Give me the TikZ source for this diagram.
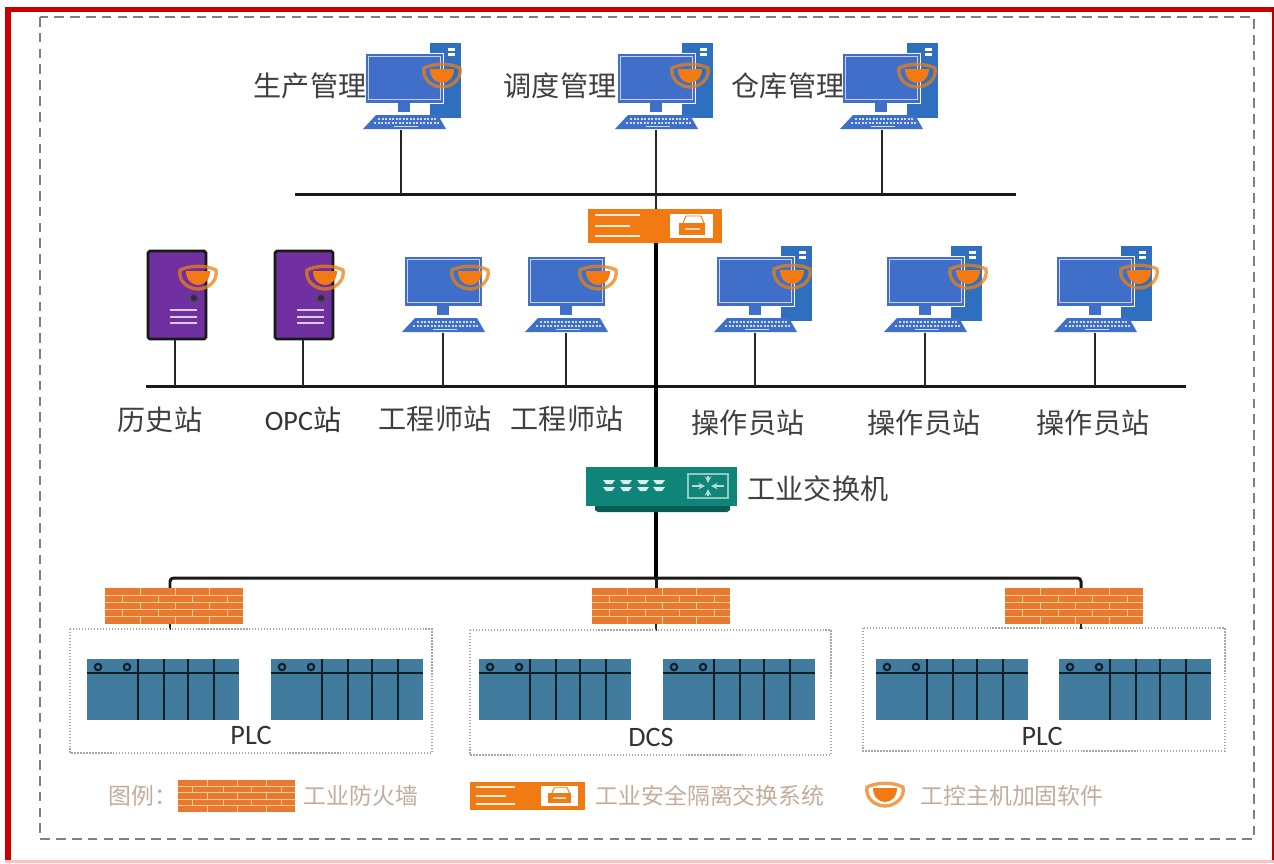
\documentclass[tikz,border=0pt]{standalone}
\usepackage{fontspec}
\setmainfont{Carlito}
\newfontfamily\cjk{Noto Sans CJK SC}
\definecolor{hostblue}{HTML}{3F6FC8}
\definecolor{towerblue}{HTML}{2F6FC0}
\definecolor{srvpurple}{HTML}{7030A0}
\definecolor{gateorange}{HTML}{F27A12}
\definecolor{brick}{HTML}{E8792E}
\definecolor{swteal}{HTML}{0F8478}
\definecolor{swdark}{HTML}{0A5C54}
\definecolor{rackblue}{HTML}{417B9E}
\definecolor{legendtext}{HTML}{C4AC9C}
\tikzset{
  stem/.style={line width=1.1pt,draw=black!85},
  bus/.style={line width=1.7pt,draw=black!90},
  trunk/.style={line width=2.1pt,draw=black},
  hostlabel/.style={font=\cjk\fontsize{16}{18}\selectfont,text=black!75,inner sep=0pt},
  fieldlabel/.style={font=\fontsize{16}{18}\selectfont,text=black!80,inner sep=0pt},
  legendlabel/.style={font=\cjk\fontsize{13}{15}\selectfont,text=legendtext,inner sep=0pt},
  unitbox/.style={draw=black!35,line width=.7pt,densely dotted},
  monitor/.pic={
    \fill[hostblue,draw=white,line width=.4pt] (-39,-77) rectangle (39,-27);
    \draw[blue!20!white,line width=.5pt] (-36,-74) rectangle (36,-31);
    \fill[hostblue] (-6,-27) rectangle (6,-18);
    \fill[hostblue] (-28,-15) -- (34,-15) -- (42,-1) -- (-41,-1) -- cycle;
    \draw[white!75!hostblue,line width=1pt,dash pattern=on 1.2pt off .8pt] (-26,-11) -- (32,-11);
    \draw[white!75!hostblue,line width=1pt,dash pattern=on 1.2pt off .8pt] (-30,-7) -- (36,-7);
    \draw[white!75!hostblue,line width=1pt] (-10,-3.5) -- (14,-3.5);
  },
  desktop/.pic={
    \fill[towerblue] (26,-87) rectangle (57,-12);
    \fill[white] (44,-82) rectangle (51,-79);
    \fill[white] (44,-77) rectangle (51,-74);
    \pic {monitor};
  },
  server/.pic={
    \fill[srvpurple,draw=black!90,line width=1.6pt,rounded corners=1pt] (0,0) rectangle (58,88);
    \fill[srvpurple!60!black,draw=black!70,line width=.8pt] (46,47) circle [radius=4];
    \foreach \ly in {59,66,72}
      \draw[white!75!srvpurple,line width=1.1pt] (22,\ly) -- (49,\ly);
  },
  shield/.pic={
    \draw[orange!70!brown,line width=1.9pt,opacity=.75] (-18,-7) .. controls (-8,-12) and (8,-12) .. (18,-7)
      .. controls (20,4) and (10,12) .. (0,12) .. controls (-10,12) and (-20,4) .. (-18,-7) -- cycle;
    \fill[gateorange] (-12,-6) -- (12,-6) .. controls (12,3) and (6,8) .. (0,8)
      .. controls (-6,8) and (-12,3) .. (-12,-6) -- cycle;
  },
  gatebox/.pic={
    \fill[gateorange] (0,0) rectangle (134,34);
    \foreach \ly/\lx in {6/52,17/42,27/52}
      \draw[white!85!orange,line width=1pt] (7,\ly) -- (\lx,\ly);
    \fill[white] (82,5) rectangle (125,29);
    \draw[gateorange,line width=.5pt] (95,14) -- (98,7) -- (113,7) -- (116,14);
    \fill[gateorange] (91,14) rectangle (117,26);
    \draw[white!70!orange,line width=1.2pt] (97,20) -- (112,20);
  },
  switchbox/.pic={
    \fill[swdark] (9,39) -- (144,39) -- (144,43) -- (141,45) -- (12,45) -- (9,43) -- cycle;
    \fill[swteal] (0,0) rectangle (151,39);
    \foreach \px in {23,40,57,73}
      \foreach \py in {15,22}
        \fill[white!85!swteal] (\px-6,\py-2) -- (\px+6,\py-2) -- (\px+3,\py+2) -- (\px-3,\py+2) -- cycle;
    \draw[white!55!swteal,line width=.7pt] (102,7) rectangle (142,31);
    \draw[white!70!swteal,line width=.7pt,->,>=stealth] (106,19) -- (119,19);
    \draw[white!70!swteal,line width=.7pt,->,>=stealth] (138,19) -- (125,19);
    \draw[white!70!swteal,line width=.7pt,->,>=stealth] (122,9) -- (122,16);
    \draw[white!70!swteal,line width=.7pt,->,>=stealth] (122,29) -- (122,22);
  },
  firewall/.pic={
    \fill[brick] (0,0) rectangle (138,36);
    \foreach \ry in {7.2,14.4,21.6,28.8}
      \draw[orange!40!white,line width=.55pt] (0,\ry) -- (138,\ry);
    \foreach \ry in {0,14.4,28.8}
      \foreach \vx in {35,70,104}
        \draw[orange!40!white,line width=.55pt] (\vx,\ry) -- ++(0,7.2);
    \foreach \ry in {7.2,21.6}
      \foreach \vx in {17,53,87,122}
        \draw[orange!40!white,line width=.55pt] (\vx,\ry) -- ++(0,7.2);
  },
  rack/.pic={
    \fill[rackblue] (0,0) rectangle (152,61);
    \draw[black!75!rackblue,line width=.9pt] (0,14) -- (152,14);
    \foreach \vx in {51,77,101,127}
      \draw[black!75!rackblue,line width=.9pt] (\vx,0) -- (\vx,61);
    \draw[black!75!rackblue,line width=1.2pt] (11,8) circle [radius=3.2];
    \draw[black!75!rackblue,line width=1.2pt] (40,8) circle [radius=3.2];
  },
}
\begin{document}
\begin{tikzpicture}[x=0.02cm,y=-0.02cm]
\useasboundingbox (0,0) rectangle (1274,863);
% outer frames
\fill[white] (0,0) rectangle (1274,863);
\fill[red!80!black] (5,7) rectangle (11,860);
\fill[red!80!black] (5,7) rectangle (1274,12);
\fill[red!70!black] (1272,7) rectangle (1274,860);
\fill[red!25!white] (5,860) rectangle (1274,863);
\draw[black!50,line width=1.1pt,dash pattern=on 5.5pt off 3.5pt] (40,17) rectangle (1254,839);
% joints of the network
\coordinate (busaL) at (295,194);
\coordinate (busaR) at (1016,194);
\coordinate (busa) at (656,194);
\coordinate (busbL) at (146,386);
\coordinate (busbR) at (1186,386);
\coordinate (busb) at (656,386);
\coordinate (busc) at (656,578);
\coordinate (gateN) at (656,209);
\coordinate (gateS) at (656,243);
\coordinate (swN) at (656,467);
\coordinate (swS) at (656,510);
\coordinate (fwAn) at (170,588);
\coordinate (fwBn) at (656,588);
\coordinate (fwCn) at (1081,588);
\coordinate (fwAs) at (170,624);
\coordinate (fwBs) at (656,624);
\coordinate (fwCs) at (1081,624);
\coordinate (boxA) at (170,630);
\coordinate (boxB) at (656,631);
\coordinate (boxC) at (1081,629);
\draw[bus] (busaL) -- (busaR);
\draw[bus] (busbL) -- (busbR);
\draw[stem] (busa) -- (gateN);
\draw[trunk] (gateS) -- (swN);
\draw[trunk] (swS) -- (busc);
\draw[bus,rounded corners=2] (fwAn) |- (busc) -| (fwCn);
\draw[bus] (busc) -- (fwBn);
\draw[stem] (fwAs) -- (boxA);
\draw[stem] (fwBs) -- (boxB);
\draw[stem] (fwCs) -- (boxC);
% management hosts
\foreach \hname/\kx/\sx/\shx in {prod/404/401/442,sched/656/656/690,store/881/882/917}{
  \coordinate (\hname) at (\sx,130);
  \draw[stem] (\hname) -- (\hname |- busa);
  \pic at (\kx,130) {desktop};
  \pic at (\shx,75) {shield};
}
\node[hostlabel] (prodtxt) at (310,86) {生产管理};
\node[hostlabel] (schedtxt) at (560,86) {调度管理};
\node[hostlabel] (storetxt) at (788,86) {仓库管理};
\pic at (588,209) {gatebox};
% station row
\foreach \hname/\px/\sx/\shx in {hist/148/175/198,opc/275/303/325}{
  \coordinate (\hname) at (\sx,339);
  \draw[stem] (\hname) -- (\hname |- busb);
  \pic at (\px,251) {server};
  \pic at (\shx,277) {shield};
}
\foreach \hname/\kx/\shx in {engA/443/470,engB/566/598}{
  \coordinate (\hname) at (\kx,333);
  \draw[stem] (\hname) -- (\hname |- busb);
  \pic at (\kx,333) {monitor};
  \pic at (\shx,277) {shield};
}
\foreach \hname/\kx/\shx in {opA/755/792,opB/925/968,opC/1095/1139}{
  \coordinate (\hname) at (\kx,333);
  \draw[stem] (\hname) -- (\hname |- busb);
  \pic at (\kx,333) {desktop};
  \pic at (\shx,276) {shield};
}
\node[hostlabel] (histtxt) at (160,420) {历史站};
\node[fieldlabel] (opctxt) at (303,420) {OPC{\cjk 站}};
\node[hostlabel] (engAtxt) at (435,419) {工程师站};
\node[hostlabel] (engBtxt) at (567,419) {工程师站};
\node[hostlabel] (opAtxt) at (748,423) {操作员站};
\node[hostlabel] (opBtxt) at (924,423) {操作员站};
\node[hostlabel] (opCtxt) at (1093,423) {操作员站};
% switch and field units
\pic at (586,467) {switchbox};
\node[hostlabel] (swtxt) at (818,489) {工业交换机};
\pic at (105,588) {firewall};
\pic at (592,588) {firewall};
\pic at (1005,588) {firewall};
\draw[unitbox] (70,629) rectangle (432,753);
\draw[unitbox] (470,630) rectangle (831,755);
\draw[unitbox] (863,628) rectangle (1225,751);
\foreach \rx in {87,271,479,663,876,1059}
  \pic at (\rx,659) {rack};
\node[fieldlabel] (plcA) at (251,735) {PLC};
\node[fieldlabel] (dcs) at (651,737) {DCS};
\node[fieldlabel] (plcC) at (1042,736) {PLC};
% legend
\node[legendlabel] (legtxt) at (143,796) {图例：};
\pic[xscale=.85,yscale=.89] at (178,780) {firewall};
\node[legendlabel] (legfw) at (361,796) {工业防火墙};
\pic[xscale=.86,yscale=.82] at (470,782) {gatebox};
\node[legendlabel] (leggate) at (710,796) {工业安全隔离交换系统};
\pic at (885,794) {shield};
\node[legendlabel] (legsh) at (1012,796) {工控主机加固软件};
\end{tikzpicture}
\end{document}
